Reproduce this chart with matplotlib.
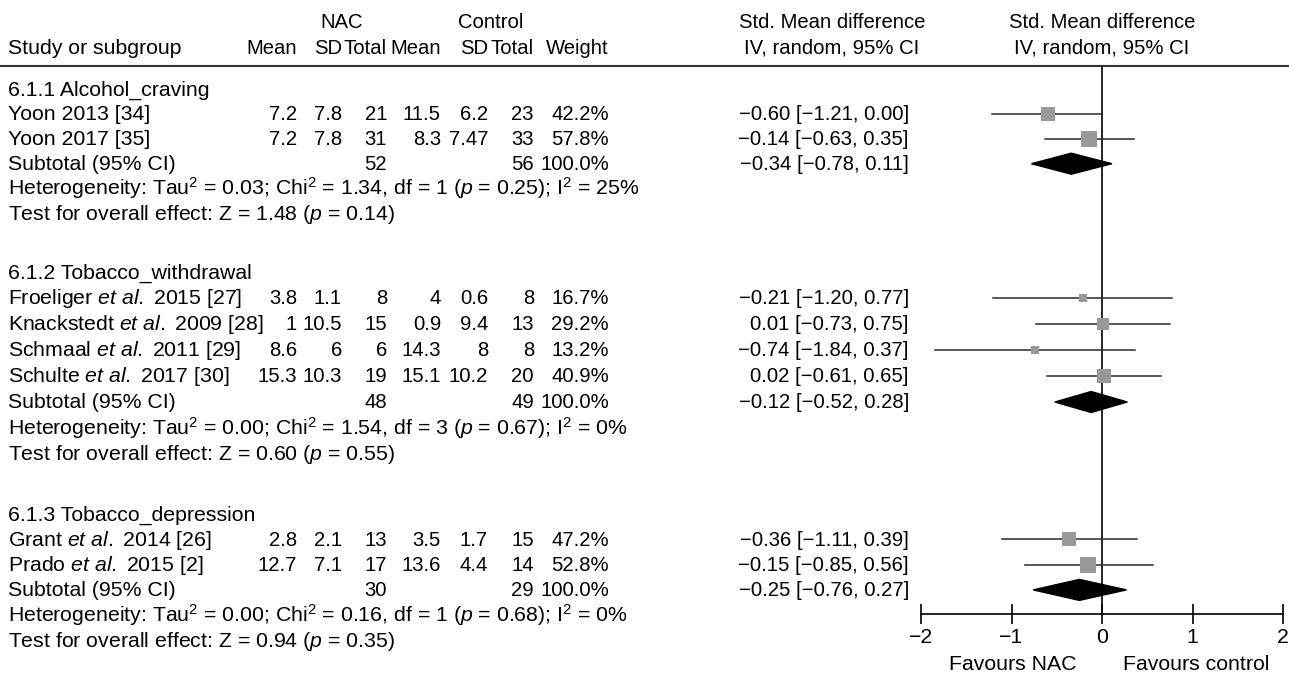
import matplotlib
matplotlib.use("Agg")
import matplotlib.pyplot as plt
import numpy as np

plt.rcParams['font.family'] = ['Liberation Sans', 'DejaVu Sans']
plt.rcParams['mathtext.fontset'] = 'custom'
plt.rcParams['mathtext.rm'] = 'Liberation Sans'
plt.rcParams['mathtext.it'] = 'Liberation Sans:italic'

# ---- data ----
group_names = ["6.1.1 Alcohol_craving", "6.1.2 Tobacco_withdrawal", "6.1.3 Tobacco_depression"]
study_names = ["Yoon 2013 [34]", "Yoon 2017 [35]",
               r"Froeliger $\mathit{et\ al.}$ 2015 [27]", r"Knackstedt $\mathit{et\ al.}$ 2009 [28]",
               r"Schmaal $\mathit{et\ al.}$ 2011 [29]", r"Schulte $\mathit{et\ al.}$ 2017 [30]",
               r"Grant $\mathit{et\ al.}$ 2014 [26]", r"Prado $\mathit{et\ al.}$ 2015 [2]"]
study_group = [0, 0, 1, 1, 1, 1, 2, 2]
nac_mean = [7.2, 7.2, 3.8, 1, 8.6, 15.3, 2.8, 12.7]
nac_sd = [7.8, 7.8, 1.1, 10.5, 6, 10.3, 2.1, 7.1]
nac_n = [21, 31, 8, 15, 6, 19, 13, 17]
ctl_mean = [11.5, 8.3, 4, 0.9, 14.3, 15.1, 3.5, 13.6]
ctl_sd = [6.2, 7.47, 0.6, 9.4, 8, 10.2, 1.7, 4.4]
ctl_n = [23, 33, 8, 13, 8, 20, 15, 14]
weight = [42.2, 57.8, 16.7, 29.2, 13.2, 40.9, 47.2, 52.8]
smd = [-0.60, -0.14, -0.21, 0.01, -0.74, 0.02, -0.36, -0.15]
ci_lo = [-1.21, -0.63, -1.20, -0.73, -1.84, -0.61, -1.11, -0.85]
ci_hi = [0.00, 0.35, 0.77, 0.75, 0.37, 0.65, 0.39, 0.56]

sub_nac_n = [52, 48, 30]
sub_ctl_n = [56, 49, 29]
sub_smd = [-0.34, -0.12, -0.25]
sub_lo = [-0.78, -0.52, -0.76]
sub_hi = [0.11, 0.28, 0.27]
het_tau2 = ["0.03", "0.00", "0.00"]
het_chi2 = ["1.34", "1.54", "0.16"]
het_df = [1, 3, 1]
het_p = ["0.25", "0.67", "0.68"]
het_i2 = [25, 0, 0]
z_val = ["1.48", "0.60", "0.94"]
z_p = ["0.14", "0.55", "0.35"]

xticks = [-2, -1, 0, 1, 2]


def fmt_ci(e, l, h):
    return f"{e:.2f} [{l:.2f}, {h:.2f}]".replace("-", "\u2212")


# ---- layout (pixel units) ----
W, H = 1289, 675
fs = 15.3      # left labels
fs_num = 14.6  # numeric columns
group_start = [89, 272, 514]
row_step = [24.9, 26.0, 25.3]
base_off = 6.5
col_x = [297, 342, 387, 441, 488, 534, 609]
ci_x = 909

fig = plt.figure(figsize=(W / 100, H / 100), dpi=100)
tax = fig.add_axes([0, 0, 1, 1])
tax.set_xlim(0, W)
tax.set_ylim(H, 0)
tax.axis('off')


def put(x, y, s, ha='left', size=fs, **kw):
    tax.text(x, y + base_off, s, ha=ha, va='baseline', fontsize=size, **kw)


# header
put(342, 21, "NAC", ha='center', size=fs_num)
put(491, 21, "Control", ha='center', size=fs_num)
put(832, 21, "Std. Mean difference", ha='center', size=fs_num)
put(1102, 21, "Std. Mean difference", ha='center', size=fs_num)
put(8, 47, "Study or subgroup")
for x, s in zip(col_x, ["Mean", "SD", "Total", "Mean", "SD", "Total", "Weight"]):
    put(x, 47, s, ha='right', size=fs_num)
put(832, 47, "IV, random, 95% CI", ha='center', size=fs_num)
put(1102, 47, "IV, random, 95% CI", ha='center', size=fs_num)
tax.axhline(66, color='#333333', lw=1.5)

# row positions
study_y = []
sub_y = []
for g in range(3):
    y0 = group_start[g]
    step = row_step[g]
    idx = [i for i in range(len(study_names)) if study_group[i] == g]
    put(8, y0, group_names[g])
    for k, i in enumerate(idx):
        y = y0 + step * (k + 1)
        study_y.append(y)
        put(8, y, study_names[i])
        vals = [f"{nac_mean[i]:g}", f"{nac_sd[i]:g}", f"{nac_n[i]}",
                f"{ctl_mean[i]:g}", f"{ctl_sd[i]:g}", f"{ctl_n[i]}", f"{weight[i]:.1f}%"]
        for x, s in zip(col_x, vals):
            put(x, y, s, ha='right', size=fs_num)
        put(ci_x, y, fmt_ci(smd[i], ci_lo[i], ci_hi[i]), ha='right', size=fs_num)
    ys = y0 + step * (len(idx) + 1)
    sub_y.append(ys)
    put(8, ys, "Subtotal (95% CI)")
    put(col_x[2], ys, f"{sub_nac_n[g]}", ha='right', size=fs_num)
    put(col_x[5], ys, f"{sub_ctl_n[g]}", ha='right', size=fs_num)
    put(col_x[6], ys, "100.0%", ha='right', size=fs_num)
    put(ci_x, ys, fmt_ci(sub_smd[g], sub_lo[g], sub_hi[g]), ha='right', size=fs_num)
    put(8, ys + step,
        f"Heterogeneity: Tau$^{{2}}$ = {het_tau2[g]}; Chi$^{{2}}$ = {het_chi2[g]}, "
        f"df = {het_df[g]} ($p$ = {het_p[g]}); I$^{{2}}$ = {het_i2[g]}%")
    put(8, ys + 2 * step,
        f"Test for overall effect: Z = {z_val[g]} ($p$ = {z_p[g]})")

# ---- forest plot ----
axis_y = 614
ax = fig.add_axes([921 / W, (H - axis_y) / H, 362 / W, (axis_y - 66) / H])
ax.set_xlim(-2, 2)
ax.set_ylim(axis_y, 66)
ax.patch.set_visible(False)
for side in ['top', 'left', 'right']:
    ax.spines[side].set_visible(False)
ax.spines['bottom'].set_linewidth(1.2)
ax.set_yticks([])
ax.set_xticks(xticks)
ax.tick_params(axis='x', direction='inout', length=14, width=1.2, labelsize=fs, pad=3)
ax.axvline(0, color='black', lw=1.2)

for i in range(len(study_names)):
    ax.plot([ci_lo[i], ci_hi[i]], [study_y[i], study_y[i]], color='#2a2a2a', lw=1.1,
            clip_on=False, zorder=2)
    side_px = 2.15 * np.sqrt(weight[i])
    ax.plot(smd[i], study_y[i], marker='s', markersize=side_px * 0.72, color='#999999',
            markeredgewidth=0, zorder=3, clip_on=False)

half_h = 10.5
for g in range(3):
    y = sub_y[g]
    ax.fill([sub_lo[g], sub_smd[g], sub_hi[g], sub_smd[g]], [y, y - half_h, y, y + half_h],
            color='black', zorder=4, clip_on=False)

tax.text(1013, 664, "Favours NAC", ha='center', va='center', fontsize=fs)
tax.text(1196, 664, "Favours control", ha='center', va='center', fontsize=fs)

fig.savefig("out.png", dpi=100)
